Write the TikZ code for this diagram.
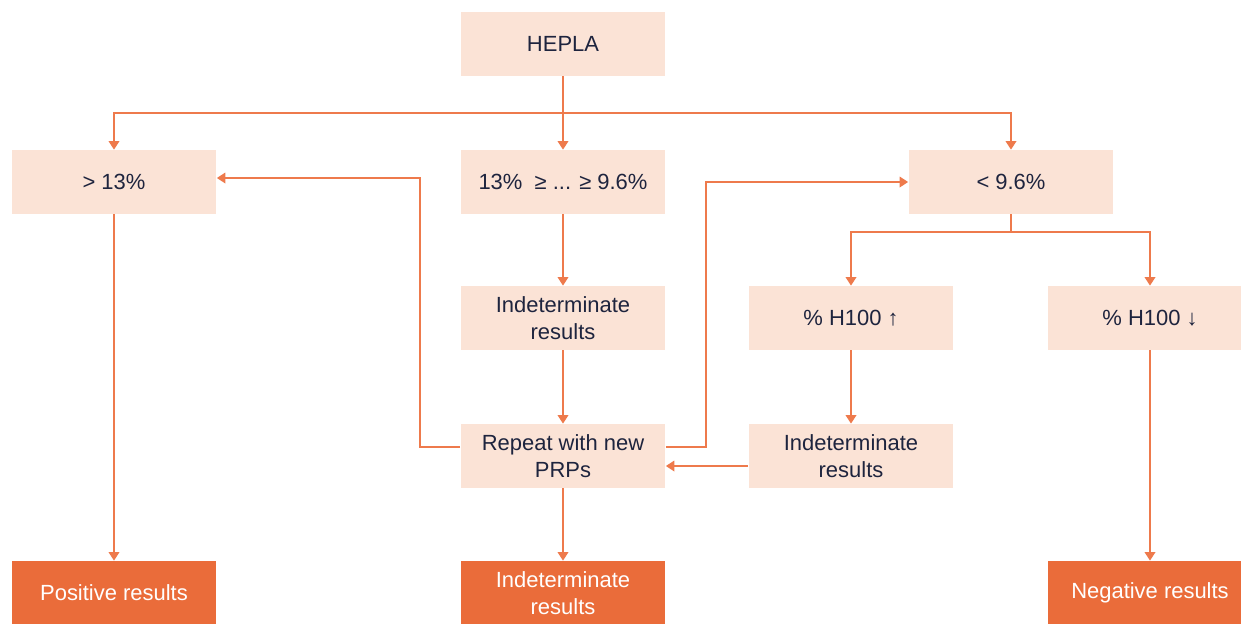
\documentclass[tikz,border=0pt]{standalone}
\usepackage{fontspec}
\setmainfont{Liberation Sans}
\usetikzlibrary{arrows.meta}

\definecolor{boxpeach}{RGB}{251,227,214}
\definecolor{boxorange}{RGB}{234,108,58}
\definecolor{lineorange}{RGB}{238,122,76}
\definecolor{textnavy}{RGB}{30,36,62}

\begin{document}
\begin{tikzpicture}[
	x=0.02cm, y=-0.02cm,
	stage/.style={ rectangle, fill=boxpeach, text=textnavy, minimum width=4.1cm, minimum height=1.28cm, inner sep=2pt, align=center, font=\fontsize{12.5}{15.3}\selectfont },
	result/.style={ stage, fill=boxorange, text=white },
	link/.style={ draw=lineorange, line width=1pt },
	arrow/.style={ link, -{Triangle[length=1.7mm,width=2.1mm]} }
]
\useasboundingbox (0,0) rectangle (1241,623);

% first level
\node at (563,44) (hepla) [stage] {HEPLA};
\node at (114,182) (high) [stage] {> 13\%};
\node at (563,182) (mid) [stage] {13\%\ \ ≥ ... ≥ 9.6\%};
\node at (1011,182) (low) [stage] {< 9.6\%};

\coordinate (fork) at (563,113);
\draw[link] (hepla) -- (fork);
\draw[arrow] (fork) -- (mid);
\foreach \p in {high,low} \draw[arrow] (fork) -| (\p);

% middle column
\node at (563,318) (indetM) [stage] {Indeterminate\\results};
\node at (563,456) (repeat) [stage] {Repeat with new\\PRPs};
\draw[arrow] (mid) -- (indetM);
\draw[arrow] (indetM) -- (repeat);

% low branch
\node at (851,318) (up) [stage] {\% H100 ↑};
\node at (1150,318) (down) [stage] {\% H100 ↓};
\node at (851,456) (indetR) [stage] {Indeterminate\\results};

\coordinate (fork2) at (1011,232);
\draw[link] (low) -- (fork2);
\foreach \p in {up,down} \draw[arrow] (fork2) -| (\p);
\draw[arrow] (up) -- (indetR);
\draw[arrow] (indetR.west |- 0,466) -- (repeat.east |- 0,466);

% repeat goes back up
\coordinate (backL) at (420,447);
\coordinate (backR) at (706,447);
\draw[arrow] (repeat.west |- backL) -- (backL) |- (high.east |- 0,178);
\draw[arrow] (repeat.east |- backR) -- (backR) |- (low.west);

% outcomes
\node at (114,593) (pos) [result] {Positive results};
\node at (563,593) (indetB) [result] {Indeterminate\\results};
\node at (1150,593) (neg) [result] {Negative results};
\draw[arrow] (high) -- (pos);
\draw[arrow] (repeat) -- (indetB);
\draw[arrow] (down) -- (neg);

\end{tikzpicture}
\end{document}
